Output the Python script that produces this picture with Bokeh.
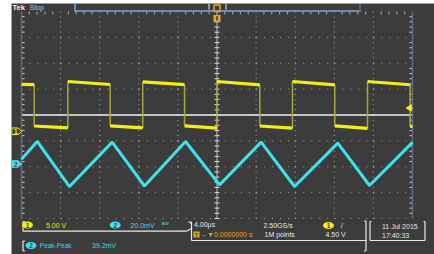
import numpy as np
from bokeh.plotting import figure
from bokeh.models import Range1d
from bokeh.core.properties import value
from bokeh.embed import file_html
from bokeh.resources import INLINE

# ---------------- scope settings and readout texts ----------------
TIME_PER_DIV = 4.0      # us / div
CH1_PER_DIV = 5.0       # V / div
CH2_PER_DIV = 20.0      # mV / div
CH1_POS = -0.63         # ground marker position (div)
CH2_POS = -1.894        # ground marker position (div)
TRIG_LEVEL = 4.50       # V on channel 1
N_XDIV, N_YDIV = 10, 8

header_brand = "Tek"
header_state = "Stop"
ch1_label = "5.00 V"
ch2_label = "20.0mV"
bw_label = "ᴮᵂ"
timebase_label = "4.00µs"
trig_pos_label = "→▼0.0000000 s"
rate_label = "2.50GS/s"
points_label = "1M points"
trig_level_label = "4.50 V"
date_label = "11 Jul  2015"
time_label = "17:40:33"
meas_name = "Peak-Peak"
meas_value = "39.2mV"

# ---------------- waveform data (read from the screen) ----------------
# channel 1: square wave, edge times (us) and plateau levels (V)
ch1_edges_us = [-18.70, -15.26, -10.93, -7.60, -3.32, 0.0, 4.38, 7.72, 12.05, 15.40, 19.76]
ch1_level_start_v = [9.05, 1.02, 9.62, 1.05, 9.55, 1.05, 9.62, 1.02, 9.62, 1.05, 9.62, 0.95]
ch1_level_end_v = [9.03, 0.65, 9.04, 0.65, 9.03, 0.62, 8.96, 0.60, 8.96, 0.55, 9.00, 0.95]

# channel 2: triangle wave vertices
ch2_t_us = [-20.0, -18.39, -15.09, -10.72, -7.42, -3.22, 0.26, 4.52, 7.93, 12.36, 15.60, 20.0]
ch2_mv = [3.7, 17.4, -17.4, 16.9, -17.0, 17.4, -16.1, 16.9, -17.4, 16.1, -16.6, 16.7]

# ---------------- layout (page pixels) ----------------
FIG_LEFT, FIG_TOP = 11, 3
W, H = 423, 251
GRID_L, GRID_T = 21.0, 11.0
DIV_W, DIV_H = 39.1, 25.875
X0 = GRID_L + DIV_W * N_XDIV / 2
Y0 = GRID_T + DIV_H * N_YDIV / 2
PX_PER_US = DIV_W / TIME_PER_DIV


def tx(px):
    return (px - X0) / PX_PER_US


def dy(py):
    return (Y0 - py) / DIV_H


BG = "#3c3c3c"
YEL = "#f3ef14"
YEL_EDGE = "#a9a53e"
CYAN = "#3fe2ec"
CYAN_TXT = "#3fd9e3"
YEL_TXT = "#e9e21e"
WHITE = "#e8e8e8"
ORANGE = "#e9a526"
BORDER = "#5b6b82"
DOT = "#a8a8a8"
FONT = value("Liberation Sans")

y_lo, y_hi = dy(FIG_TOP + H), dy(FIG_TOP)
p = figure(width=W, height=H, output_backend="svg", toolbar_location=None,
           x_axis_location=None, y_axis_location=None, title=None,
           x_range=Range1d(tx(FIG_LEFT), tx(FIG_LEFT + W)),
           y_range=Range1d(y_lo, y_hi),
           background_fill_color=BG, border_fill_color=BG,
           outline_line_color=None, min_border=0)
p.grid.visible = False
p.extra_y_ranges = {
    "ch1": Range1d((y_lo - CH1_POS) * CH1_PER_DIV, (y_hi - CH1_POS) * CH1_PER_DIV),
    "ch2": Range1d((y_lo - CH2_POS) * CH2_PER_DIV, (y_hi - CH2_POS) * CH2_PER_DIV),
}
p.styles = {"margin-left": f"{FIG_LEFT}px", "margin-top": f"{FIG_TOP}px"}

# ---------------- graticule ----------------
gx = np.linspace(-TIME_PER_DIV * N_XDIV / 2, TIME_PER_DIV * N_XDIV / 2, N_XDIV + 1)
gy = np.linspace(-N_YDIV / 2, N_YDIV / 2, N_YDIV + 1)

rx0, rx1, ry = [], [], []
for y in gy[:-1]:
    if abs(y) < 1e-9:
        continue
    for k in range(N_XDIV):
        rx0.append(gx[k]); rx1.append(gx[k + 1]); ry.append(y)
p.segment(x0=rx0, y0=ry, x1=rx1, y1=ry, line_color=DOT, line_width=1, line_dash="1 7")

cy0, cy1, cx = [], [], []
for x in gx[1:-1]:
    if abs(x) < 1e-9:
        continue
    for k in range(N_YDIV):
        cy0.append(gy[k + 1]); cy1.append(gy[k]); cx.append(x)
p.segment(x0=cx, y0=cy0, x1=cx, y1=cy1, line_color=DOT, line_width=1, line_dash="1 4")

minor_y = [v for v in np.arange(gy[0], gy[-1] + 1e-6, 0.2) if abs(v - round(v)) > 1e-6]
minor_x = [v for v in np.arange(gx[0], gx[-1] + 1e-6, TIME_PER_DIV / 5)
           if abs(v / TIME_PER_DIV - round(v / TIME_PER_DIV)) > 1e-6]
all_minor_y = list(np.arange(gy[0], gy[-1] + 1e-6, 0.2))
tick3 = 3 / PX_PER_US
p.segment(x0=[gx[0]] * len(minor_y), y0=minor_y, x1=[gx[0] + tick3] * len(minor_y), y1=minor_y,
          line_color="#cfcfcf", line_width=1)
p.segment(x0=[gx[-1] - tick3] * len(minor_y), y0=minor_y, x1=[gx[-1]] * len(minor_y), y1=minor_y,
          line_color="#cfcfcf", line_width=1)
p.segment(x0=minor_x, y0=[gy[-1]] * len(minor_x), x1=minor_x, y1=[gy[-1] - 3 / DIV_H] * len(minor_x),
          line_color="#9a9a9a", line_width=1.2)
# center cross
p.segment(x0=[0], y0=[gy[0]], x1=[0], y1=[gy[-1]], line_color="#8f8f8f", line_width=1.5)
p.segment(x0=[-2.5 / PX_PER_US] * len(all_minor_y), y0=all_minor_y,
          x1=[2.5 / PX_PER_US] * len(all_minor_y), y1=all_minor_y, line_color="#dcdcdc", line_width=1)
p.segment(x0=[gx[0]], y0=[0], x1=[gx[-1]], y1=[0], line_color="#f2f2f2", line_width=1.6)
# side borders
p.segment(x0=[gx[0], gx[-1]], y0=[gy[0]] * 2, x1=[gx[0], gx[-1]], y1=[gy[-1]] * 2,
          line_color=BORDER, line_width=1.5)

# record view box at top
p.segment(x0=[tx(74)], y0=[dy(10.5)], x1=[tx(360)], y1=[dy(10.5)], line_color="#7fa7dc", line_width=1.5)
p.segment(x0=[tx(74.5), tx(359.5)], y0=[dy(3)] * 2, x1=[tx(74.5), tx(359.5)], y1=[dy(11)] * 2,
          line_color=["#7fa7dc", "#5b6b82"], line_width=1.5)
p.segment(x0=[tx(208.5), tx(225.5)], y0=[dy(3)] * 2, x1=[tx(208.5), tx(225.5)], y1=[dy(9)] * 2,
          line_color="#d0d0d0", line_width=1.2)
p.quad(left=[tx(213.5)], right=[tx(219.5)], top=[dy(4.5)], bottom=[dy(11)],
       fill_color=None, line_color=ORANGE, line_width=1.5)
p.quad(left=[tx(213)], right=[tx(220)], top=[dy(14.5)], bottom=[dy(21.5)],
       fill_color=ORANGE, line_color=None)
p.segment(x0=[tx(216.5)], y0=[dy(15.5)], x1=[tx(216.5)], y1=[dy(20)], line_color=BG, line_width=1.5)

# ---------------- waveforms ----------------
seg_start = [gx[0]] + ch1_edges_us
seg_end = ch1_edges_us + [gx[-1]]
p.segment(x0=ch1_edges_us, y0=ch1_level_end_v[:-1], x1=ch1_edges_us, y1=ch1_level_start_v[1:],
          y_range_name="ch1", line_color=YEL_EDGE, line_width=1.5)
p.segment(x0=seg_start, y0=ch1_level_start_v, x1=seg_end, y1=ch1_level_end_v,
          y_range_name="ch1", line_color=YEL, line_width=3.2)
p.line(ch2_t_us, ch2_mv, y_range_name="ch2", line_color=CYAN, line_width=3)

# trigger level marker (right)
p.scatter(x=[tx(409)], y=[TRIG_LEVEL], y_range_name="ch1", marker="triangle",
          angle=np.pi / 2, size=6, fill_color=YEL, line_color=YEL)
p.segment(x0=[tx(409)], y0=[TRIG_LEVEL], x1=[tx(412)], y1=[TRIG_LEVEL], y_range_name="ch1",
          line_color=YEL, line_width=1.5)

# channel ground markers (left)
hh = 3.3 / DIV_H
mx = [tx(11.3), tx(17.5), tx(21.3), tx(17.5), tx(11.3)]
p.patch(mx, [CH1_POS + hh, CH1_POS + hh, CH1_POS, CH1_POS - hh, CH1_POS - hh],
        fill_color=BG, line_color=YEL, line_width=1)
p.patch(mx, [CH2_POS + hh, CH2_POS + hh, CH2_POS, CH2_POS - hh, CH2_POS - hh],
        fill_color=CYAN, line_color=CYAN, line_width=1)
p.text(x=[tx(15.3)], y=[CH1_POS], text=["1"], text_font=FONT, text_font_size="6.5px",
       text_font_style="bold", text_color=YEL, text_align="center", text_baseline="middle")
p.text(x=[tx(15.3)], y=[CH2_POS], text=["2"], text_font=FONT, text_font_size="6.5px",
       text_font_style="bold", text_color=BG, text_align="center", text_baseline="middle")

# ---------------- readout ----------------
def txt(px, py, s, color, size="7px", bold=False, align="left"):
    p.text(x=[tx(px)], y=[dy(py)], text=[s], text_font=FONT, text_font_size=size,
           text_font_style="bold" if bold else "normal", text_color=color,
           text_align=align, text_baseline="middle")


def pill(cx, cy, s, color):
    p.ellipse(x=[tx(cx)], y=[dy(cy)], width=11, height=7, width_units="screen",
              height_units="screen", fill_color=color, line_color=None)
    txt(cx, cy + 0.3, s, BG, size="6.5px", bold=True, align="center")


def line(x0, y0, x1, y1, color=WHITE, w=1.2):
    p.segment(x0=[tx(x0)], y0=[dy(y0)], x1=[tx(x1)], y1=[dy(y1)], line_color=color, line_width=w)


txt(12, 6.8, header_brand, "#f4f4f4", size="7.5px", bold=True)
txt(29, 6.8, header_state, "#c4c4c4", size="7px")

# row 1 and 2
line(22.5, 221, 22.5, 230.7); line(22.5, 221, 24.5, 221)
line(22.5, 230.7, 186, 230.7)
pill(27, 224.5, "1", YEL)
txt(45.5, 224.5, ch1_label, YEL_TXT)
pill(114.7, 224.5, "2", CYAN)
txt(130, 224.5, ch2_label, CYAN_TXT)
txt(161.5, 224, bw_label, CYAN_TXT, size="6.5px")
line(186, 230.7, 191, 228); line(191, 221, 191, 240); line(188, 221, 191, 223)
txt(193.5, 224, timebase_label, WHITE)
p.quad(left=[tx(193)], right=[tx(199)], top=[dy(231)], bottom=[dy(237)], fill_color=ORANGE, line_color=None)
txt(196, 234.2, "T", BG, size="5.5px", bold=True, align="center")
txt(199.5, 234, trig_pos_label, ORANGE)
line(191, 240, 366, 240)
txt(263, 225, rate_label, WHITE)
txt(264, 234, points_label, WHITE)
pill(328, 225, "1", YEL)
txt(340.5, 224.5, "/", WHITE)
txt(325, 234, trig_level_label, WHITE)
line(365.5, 220.5, 365.5, 250.5); line(363.5, 220.5, 365.5, 220.5); line(363.5, 250.5, 365.5, 250.5)
line(369.5, 221, 369.5, 240); line(369.5, 240, 424.5, 240); line(424.5, 221, 424.5, 240)
line(369.5, 221, 371, 221); line(423, 221, 424.5, 221)
txt(381.5, 225.5, date_label, WHITE)
txt(381.5, 234.5, time_label, WHITE)

# measurement row
line(22.5, 240.5, 22.5, 250.5); line(22.5, 240.5, 24.5, 240.5); line(22.5, 250.5, 24.5, 250.5)
pill(30.5, 245, "2", CYAN)
txt(39.3, 245, meas_name, CYAN_TXT, size="6.5px")
txt(91.5, 245, meas_value, CYAN_TXT)

open("out.html", "w").write(file_html(p, INLINE))
